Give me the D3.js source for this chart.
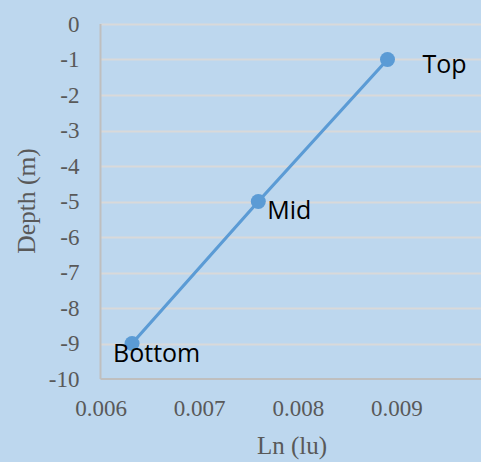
<!DOCTYPE html>
<html>
<head>
<meta charset="utf-8">
<script src="https://cdn.jsdelivr.net/npm/d3@7"></script>
<style>
  html, body { margin: 0; padding: 0; background: #BDD7EE; }
  svg { display: block; }
</style>
</head>
<body>
<svg id="chart" width="481" height="462"></svg>
<script>
// ---- data ----
const pointNames = ["Top", "Mid", "Bottom"];
const lnValues = [0.00891, 0.0076, 0.00632];
const depthValues = [-1, -5, -9];
const xTickValues = [0.006, 0.007, 0.008, 0.009];
const yTickValues = [0, -1, -2, -3, -4, -5, -6, -7, -8, -9, -10];
const xTitle = "Ln (lu)";
const yTitle = "Depth (m)";

// label placement (relative to point, in px)
const labelOffsets = { Top: [35, 13], Mid: [9, 17], Bottom: [-19, 18] };

const W = 481, H = 462;
const svg = d3.select("#chart");

svg.append("rect").attr("width", W).attr("height", H).attr("fill", "#BDD7EE");

const x = d3.scaleLinear().domain([0.006, 0.010]).range([100.5, 495]);
const y = d3.scaleLinear().domain([-10, 0]).range([379, 24]);

// gridlines
svg.append("g")
  .selectAll("line")
  .data(yTickValues.filter(v => v !== -10))
  .join("line")
  .attr("x1", x(0.006)).attr("x2", W)
  .attr("y1", d => Math.round(y(d)) + 0.5).attr("y2", d => Math.round(y(d)) + 0.5)
  .attr("stroke", "#D9D9D9").attr("stroke-width", 2);

// axes
const xAxis = d3.axisBottom(x).tickValues(xTickValues).tickSize(0).tickPadding(21)
  .tickFormat(d3.format(".3f"));
const gx = svg.append("g").attr("transform", `translate(0,${y(-10)})`).call(xAxis);
gx.select(".domain").attr("stroke", "#BFBFBF").attr("stroke-width", 2)
  .attr("d", `M${x(0.006)},0H${W}`);
gx.selectAll("text").attr("fill", "#595959")
  .style("font-family", "'Liberation Serif', 'Times New Roman', serif").style("font-size", "23px");

const yAxis = d3.axisLeft(y).tickValues(yTickValues).tickSize(0).tickPadding(21)
  .tickFormat(d => d3.format("d")(d).replace("−", "-"));
const gy = svg.append("g").attr("transform", `translate(${x(0.006)},0)`).call(yAxis);
gy.select(".domain").attr("stroke", "#BFBFBF").attr("stroke-width", 2)
  .attr("d", `M0,${y(0)}V${y(-10)}`);
gy.selectAll("text").attr("fill", "#595959")
  .style("font-family", "'Liberation Serif', 'Times New Roman', serif").style("font-size", "23px");

// titles
svg.append("text")
  .attr("x", 292).attr("y", 454)
  .attr("text-anchor", "middle")
  .attr("fill", "#595959")
  .style("font-family", "'Liberation Serif', 'Times New Roman', serif").style("font-size", "25px")
  .text(xTitle);
svg.append("text")
  .attr("transform", `translate(35,201) rotate(-90)`)
  .attr("text-anchor", "middle")
  .attr("fill", "#595959")
  .style("font-family", "'Liberation Serif', 'Times New Roman', serif").style("font-size", "25.5px")
  .text(yTitle);

// series
const pts = pointNames.map((n, i) => ({ name: n, x: lnValues[i], y: depthValues[i] }));
const line = d3.line().x(d => x(d.x)).y(d => y(d.y));
svg.append("path").datum(pts).attr("d", line)
  .attr("fill", "none").attr("stroke", "#5B9BD5").attr("stroke-width", 3.2);
svg.append("g").selectAll("circle").data(pts).join("circle")
  .attr("cx", d => x(d.x)).attr("cy", d => y(d.y)).attr("r", 7.5)
  .attr("fill", "#5B9BD5");

svg.append("g").selectAll("text").data(pts).join("text")
  .attr("x", d => x(d.x) + labelOffsets[d.name][0])
  .attr("y", d => y(d.y) + labelOffsets[d.name][1])
  .attr("fill", "#000")
  .style("font-family", "'Open Sans', sans-serif").style("font-size", "25px")
  .text(d => d.name);
</script>
</body>
</html>
